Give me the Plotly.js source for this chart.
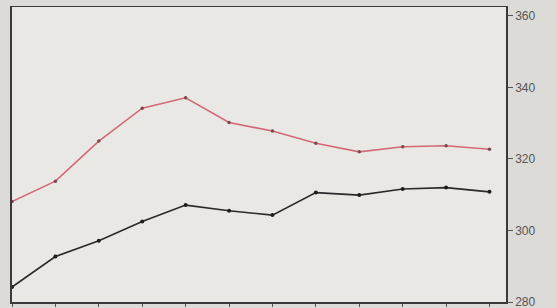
<!DOCTYPE html>
<html>
<head>
<meta charset="utf-8">
<script src="https://cdn.plot.ly/plotly-3.0.1.min.js"></script>
<style>html,body{margin:0;padding:0;background:#dddbd8;}</style>
</head>
<body>
<div id="chart" style="width:557px;height:308px;"></div>
<script>
const xIndex = [0, 1, 2, 3, 4, 5, 6, 7, 8, 9, 10, 11];
const redSeries = [308.1, 313.8, 325.0, 334.2, 337.1, 330.2, 327.8, 324.4, 322.0, 323.4, 323.7, 322.7];
const blackSeries = [284.2, 292.7, 297.1, 302.5, 307.1, 305.5, 304.3, 310.6, 309.9, 311.6, 312.0, 310.8];
const yTicks = [280, 300, 320, 340, 360];

const traces = [
  {x: xIndex, y: redSeries, mode: 'lines+markers', line: {color: '#d06a78', width: 1.6},
   marker: {color: '#7a4a50', size: 3.5}, cliponaxis: false, hoverinfo: 'skip'},
  {x: xIndex, y: blackSeries, mode: 'lines+markers', line: {color: '#2a2a2a', width: 1.6},
   marker: {color: '#1e1e1e', size: 4}, cliponaxis: false, hoverinfo: 'skip'}
];

const layout = {
  width: 557, height: 308,
  margin: {l: 12, r: 51, t: 7, b: 6},
  paper_bgcolor: '#dddbd8',
  plot_bgcolor: '#eae8e5',
  showlegend: false,
  xaxis: {range: [0, 11.38], showgrid: false, zeroline: false, showline: true, mirror: true,
          linecolor: '#3a3a3a', linewidth: 1.5, ticks: 'outside', ticklen: 3, tickcolor: '#555',
          tickvals: xIndex, showticklabels: false},
  yaxis: {side: 'right', range: [280, 362.5], showgrid: false, zeroline: false, showline: true, mirror: true,
          linecolor: '#3a3a3a', linewidth: 1.8, ticks: 'outside', ticklen: 5, tickcolor: '#555',
          tickvals: yTicks, ticktext: yTicks.map(String), ticklabeloverflow: 'allow',
          tickfont: {family: 'Liberation Sans, Arial, sans-serif', size: 12, color: '#555'}}
};

Plotly.newPlot('chart', traces, layout, {staticPlot: true});
</script>
</body>
</html>
